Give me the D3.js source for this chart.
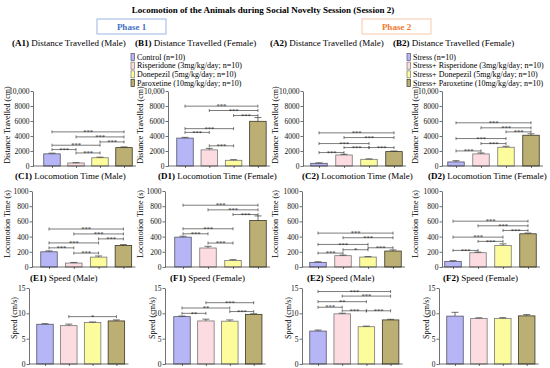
<!DOCTYPE html>
<html><head><meta charset="utf-8">
<script src="https://cdn.jsdelivr.net/npm/d3@7"></script>
<style>body{margin:0;background:#fff} svg{display:block}</style>
</head><body><svg id="c" width="550" height="368"></svg>
<script>
// ---------- DATA ----------
const groupsP1 = ["Control (n=10)", "Risperidone (3mg/kg/day; n=10)", "Donepezil (5mg/kg/day; n=10)", "Paroxetine (10mg/kg/day; n=10)"];
const groupsP2 = ["Stress (n=10)", "Stress+ Risperidone (3mg/kg/day; n=10)", "Stress+ Donepezil (5mg/kg/day; n=10)", "Stress+ Paroxetine (10mg/kg/day; n=10)"];
const groupColors = ["#B6B6F6", "#FCDCE0", "#FCFC9C", "#BCAF74"];

const distTicks = [0, 2000, 4000, 6000, 8000, 10000];
const timeTicks = [0, 200, 400, 600, 800, 1000];
const speedTicks = [0, 5, 10, 15];

// Distance travelled (cm)
const distA1 = [1620, 400, 1100, 2450];  const distA1Err = [90, 50, 80, 100];
const distB1 = [3720, 2150, 760, 5960];  const distB1Err = [100, 200, 90, 500];
const distA2 = [360, 1470, 890, 1920];   const distA2Err = [60, 90, 60, 80];
const distB2 = [540, 1610, 2500, 4100];  const distB2Err = [170, 130, 130, 190];
// Locomotion time (s)
const timeC1 = [200, 52, 130, 283];      const timeC1Err = [12, 8, 15, 12];
const timeD1 = [393, 250, 87, 612];      const timeD1Err = [12, 22, 10, 60];
const timeC2 = [61, 149, 131, 210];      const timeC2Err = [8, 8, 6, 15];
const timeD2 = [74, 188, 284, 437];      const timeD2Err = [10, 8, 20, 10];
// Speed (cm/s)
const speedE1 = [7.84, 7.57, 8.18, 8.5]; const speedE1Err = [0.12, 0.3, 0.12, 0.2];
const speedF1 = [9.35, 8.5, 8.45, 9.8];  const speedF1Err = [0.12, 0.35, 0.25, 0.12];
const speedE2 = [6.5, 9.9, 7.36, 8.7];   const speedE2Err = [0.2, 0.12, 0.12, 0.12];
const speedF2 = [9.45, 9.0, 9.0, 9.5];   const speedF2Err = [0.75, 0.12, 0.15, 0.25];

// significance brackets: [from group, to group, level (data units), label]
const sigA1 = [[0,3,4550,"***"],[1,3,3880,"***"],[2,3,3210,"***"],[0,2,2770,"***"],[0,1,2190,"***"],[1,2,1740,"***"]];
const sigB1 = [[0,3,7980,"***"],[1,3,7400,"***"],[2,3,6730,"***"],[0,2,4980,"***"],[0,1,4480,"***"],[1,2,2690,"***"]];
const sigA2 = [[0,3,4420,"***"],[1,3,3790,"***"],[0,2,2990,"***"],[1,2,2460,"***"],[2,3,2460,"***"],[0,1,1790,"***"]];
const sigB2 = [[0,3,5760,"***"],[1,3,5090,"***"],[2,3,4550,"***"],[0,2,3660,"***"],[1,2,2990,"***"],[0,1,2010,"***"]];
const sigC1 = [[0,3,500,"***"],[1,3,435,"***"],[2,3,370,"***"],[0,2,317,"***"],[0,1,252,"***"],[1,2,183,"***"]];
const sigD1 = [[0,3,813,"***"],[1,3,752,"***"],[2,3,690,"***"],[0,2,503,"***"],[0,1,437,"***"],[1,2,315,"***"]];
const sigC2 = [[0,3,446,"***"],[1,3,385,"***"],[0,2,297,"***"],[2,3,253,"***"],[1,2,227,"*"],[0,1,183,"***"]];
const sigD2 = [[0,3,603,"***"],[1,3,542,"***"],[2,3,481,"***"],[0,2,393,"***"],[1,2,337,"***"],[0,1,218,"***"]];
const sigE1 = [[1,3,9.35,"*"]];
const sigF1 = [[1,3,12.1,"***"],[0,2,11.05,"**"],[2,3,10.35,"***"],[0,1,10.0,"**"]];
const sigE2 = [[0,3,14.3,"***"],[1,3,13.4,"***"],[0,2,12.3,"**"],[0,1,11.2,"***"],[1,2,10.5,"***"],[2,3,10.5,"***"]];
const sigF2 = [];

const chartTitle = "Locomotion of the Animals during Social Novelty Session (Session 2)";
const phaseLabels = ["Phase 1", "Phase 2"];

// ---------- LAYOUT ----------
const FONT = "'Liberation Serif','Times New Roman',serif";
const svg = d3.select("#c");
const rows = [
  {top: 91, zero: 166, ticks: distTicks, fmt: v => v === 10000 ? "10,000" : String(v), ylabel: "Distance Travelled (cm)", ly: 125, ty: 46},
  {top: 191, zero: 267, ticks: timeTicks, fmt: v => String(v), ylabel: "Locomotion Time (s)", ly: 224, ty: 178.5},
  {top: 288, zero: 364, ticks: speedTicks, fmt: v => String(v), ylabel: "Speed (cm/s)", ly: 318, ty: 281}
];
const panels = [
  {row:0, ax:33,  c0:52,  step:24,  lx:7,   tx:12,  id:"(A1)", t:" Distance Travelled (Male)",   g:groupsP1, m:distA1, e:distA1Err, s:sigA1},
  {row:0, ax:168, c0:185, step:24.3,lx:140, tx:135, id:"(B1)", t:" Distance Travelled (Female)", g:groupsP1, m:distB1, e:distB1Err, s:sigB1},
  {row:0, ax:303, c0:319, step:25,  lx:275, tx:270, id:"(A2)", t:" Distance Travelled (Male)",   g:groupsP2, m:distA2, e:distA2Err, s:sigA2},
  {row:0, ax:442, c0:456, step:25,  lx:415, tx:393, id:"(B2)", t:" Distance Travelled (Female)", g:groupsP2, m:distB2, e:distB2Err, s:sigB2},
  {row:1, ax:32,  c0:49,  step:24.8,lx:7,   tx:15,  id:"(C1)", t:" Locomotion Time (Male)",      g:groupsP1, m:timeC1, e:timeC1Err, s:sigC1},
  {row:1, ax:165, c0:183, step:25,  lx:140, tx:158, id:"(D1)", t:" Locomotion Time (Female)",    g:groupsP1, m:timeD1, e:timeD1Err, s:sigD1},
  {row:1, ax:302, c0:318, step:25,  lx:275, tx:302, id:"(C2)", t:" Locomotion Time (Male)",      g:groupsP2, m:timeC2, e:timeC2Err, s:sigC2},
  {row:1, ax:442, c0:453, step:25,  lx:415, tx:428, id:"(D2)", t:" Locomotion Time (Female)",    g:groupsP2, m:timeD2, e:timeD2Err, s:sigD2},
  {row:2, ax:29,  c0:45,  step:23.8,lx:14,  tx:30,  id:"(E1)", t:" Speed (Male)",                g:groupsP1, m:speedE1, e:speedE1Err, s:sigE1},
  {row:2, ax:165, c0:182, step:23.9,lx:152, tx:170, id:"(F1)", t:" Speed (Female)",              g:groupsP1, m:speedF1, e:speedF1Err, s:sigF1},
  {row:2, ax:302, c0:318, step:24.2,lx:288, tx:307, id:"(E2)", t:" Speed (Male)",                g:groupsP2, m:speedE2, e:speedE2Err, s:sigE2},
  {row:2, ax:439, c0:455, step:23.9,lx:426, tx:443, id:"(F2)", t:" Speed (Female)",              g:groupsP2, m:speedF2, e:speedF2Err, s:sigF2}
];
const barW = 16.5;
const strokeCols = ["#55556a", "#777", "#777", "#3a3625"];

// ---------- TITLE & PHASES ----------
svg.append("text").attr("x", 263).attr("y", 12.5).attr("text-anchor", "middle")
  .attr("font-family", FONT).attr("font-weight", "bold").attr("font-size", 9).text(chartTitle);

const phaseBoxes = [{x:97, w:69, col:"#4472C4", bc:"#9DB5E3"}, {x:362, w:69, col:"#F07B2E", bc:"#F7C9A8"}];
phaseBoxes.forEach((b, i) => {
  svg.append("rect").attr("x", b.x).attr("y", 19).attr("width", b.w).attr("height", 15)
    .attr("fill", "#fff").attr("stroke", b.bc).attr("stroke-width", 1);
  svg.append("text").attr("x", b.x + b.w/2).attr("y", 29.5).attr("text-anchor", "middle")
    .attr("font-family", FONT).attr("font-weight", "bold").attr("font-size", 9).attr("fill", b.col).text(phaseLabels[i]);
});

// ---------- LEGENDS ----------
function legend(groups, x, y0) {
  const ls = d3.scalePoint().domain(groups).range([y0, y0 + 26]);
  groups.forEach((g, i) => {
    svg.append("rect").attr("x", x).attr("y", ls(g) - 3.5).attr("width", 3.5).attr("height", 7)
      .attr("fill", groupColors[i]).attr("stroke", strokeCols[i]).attr("stroke-width", 0.7);
    svg.append("text").attr("x", x + 6).attr("y", ls(g) + 2.7)
      .attr("font-family", FONT).attr("font-size", 8).text(g);
  });
}
legend(groupsP1, 131, 57);
legend(groupsP2, 407, 57);

// ---------- PANELS ----------
panels.forEach(p => {
  const r = rows[p.row];
  const yMax = r.ticks[r.ticks.length - 1];
  const y = d3.scaleLinear().domain([0, yMax]).range([r.zero, r.top]);
  const x = d3.scalePoint().domain(p.g).range([p.c0, p.c0 + 3 * p.step]);
  const g = svg.append("g");

  // title
  const tt = g.append("text").attr("x", p.tx).attr("y", r.ty).attr("font-family", FONT).attr("font-size", 9);
  tt.append("tspan").attr("font-weight", "bold").text(p.id);
  tt.append("tspan").text(p.t);

  // y label
  g.append("text").attr("transform", `translate(${p.lx},${r.ly}) rotate(-90)`)
    .attr("text-anchor", "middle").attr("dominant-baseline", "central")
    .attr("font-family", FONT).attr("font-size", 8).text(r.ylabel);

  // bars
  p.g.forEach((grp, i) => {
    g.append("rect").attr("x", x(grp) - barW/2).attr("y", y(p.m[i]))
      .attr("width", barW).attr("height", y(0) - y(p.m[i]))
      .attr("fill", groupColors[i]).attr("stroke", strokeCols[i]).attr("stroke-width", 0.8);
    const yt = y(p.m[i] + p.e[i]);
    g.append("line").attr("x1", x(grp)).attr("x2", x(grp)).attr("y1", y(p.m[i])).attr("y2", yt)
      .attr("stroke", "#333").attr("stroke-width", 0.7);
    g.append("line").attr("x1", x(grp) - 3.5).attr("x2", x(grp) + 3.5).attr("y1", yt).attr("y2", yt)
      .attr("stroke", "#333").attr("stroke-width", 0.7);
  });

  // y axis
  const ya = g.append("g").attr("transform", `translate(${p.ax},0)`)
    .call(d3.axisLeft(y).tickValues(r.ticks).tickFormat(r.fmt).tickSize(2.5).tickSizeOuter(0));
  ya.selectAll("text").attr("font-family", FONT).attr("font-size", 7.5).attr("fill", "#111").attr("x", -3.5);
  ya.selectAll("line,path").attr("stroke", "#333").attr("stroke-width", 0.7);

  // x axis
  const xEnd = p.c0 + 3 * p.step + 12;
  g.append("line").attr("x1", p.ax).attr("x2", xEnd).attr("y1", r.zero).attr("y2", r.zero)
    .attr("stroke", "#333").attr("stroke-width", 0.7);
  const xa = g.append("g").attr("transform", `translate(0,${r.zero})`)
    .call(d3.axisBottom(x).tickSize(2).tickFormat(""));
  xa.select(".domain").remove();
  xa.selectAll("line").attr("stroke", "#333").attr("stroke-width", 0.7);

  // significance brackets
  p.s.forEach(([a, b, lv, lab]) => {
    const x1 = x(p.g[a]), x2 = x(p.g[b]), yy = y(lv);
    g.append("path").attr("d", `M${x1},${yy-1.5}V${yy+1.5}M${x1},${yy}H${x2}M${x2},${yy-1.5}V${yy+1.5}`)
      .attr("fill", "none").attr("stroke", "#444").attr("stroke-width", 0.7);
    g.append("text").attr("x", (x1 + x2) / 2).attr("y", yy + 2.2).attr("text-anchor", "middle")
      .attr("font-family", FONT).attr("font-size", 6.5).attr("fill", "#222").text(lab);
  });
});
</script></body></html>
